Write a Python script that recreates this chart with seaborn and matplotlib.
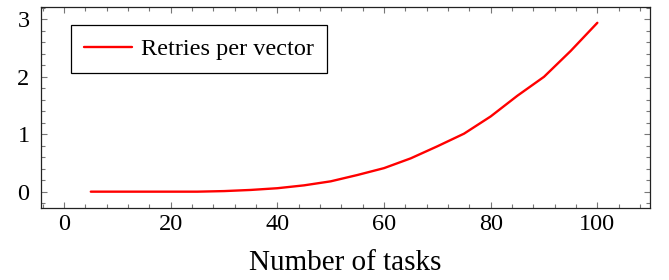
import matplotlib
matplotlib.use("Agg")
import matplotlib.pyplot as plt
import seaborn as sns
import pandas as pd
from matplotlib.ticker import MultipleLocator

tasks = [5, 10, 15, 20, 25, 30, 35, 40, 45, 50, 55, 60, 65, 70, 75, 80, 85, 90, 95, 100]
retries = [0.0, 0.0, 0.0, 0.0, 0.0, 0.01, 0.03, 0.06, 0.11, 0.18, 0.29, 0.41,
           0.58, 0.79, 1.01, 1.31, 1.67, 2.0, 2.45, 2.94]
series_name = "Retries per vector"
x_label = "Number of tasks"

df = pd.DataFrame({"tasks": tasks, "retries": retries})

sns.set_style("ticks")
plt.rcParams["font.family"] = ["Liberation Serif", "DejaVu Serif"]
plt.rcParams["text.color"] = "black"
plt.rcParams["axes.labelcolor"] = "black"
plt.rcParams["xtick.labelcolor"] = "black"
plt.rcParams["ytick.labelcolor"] = "black"

fig = plt.figure(figsize=(6.69, 2.80), dpi=100)
ax = fig.add_axes([0.0608, 0.256, 0.9102, 0.720])

sns.lineplot(data=df, x="tasks", y="retries", ax=ax, color="#ff0000",
             linewidth=1.7, label=series_name)

ax.set_xlim(-4.4, 109.8)
ax.set_ylim(-0.29, 3.22)
ax.xaxis.set_major_locator(MultipleLocator(20))
ax.xaxis.set_minor_locator(MultipleLocator(4))
ax.yaxis.set_major_locator(MultipleLocator(1))
ax.yaxis.set_minor_locator(MultipleLocator(0.2))

for s in ax.spines.values():
    s.set_color("#222222")
    s.set_linewidth(0.9)

ax.tick_params(which="both", direction="in", top=True, right=True,
               color="#777777", width=0.8)
ax.tick_params(which="major", length=4.2, labelsize=17.5)
ax.tick_params(which="minor", length=2.8)
ax.tick_params(axis="x", which="major", pad=4)
ax.tick_params(axis="y", which="major", pad=8)

ax.set_xlabel(x_label, fontsize=21, labelpad=11, color="black")
ax.set_ylabel("")

leg = ax.legend(loc="upper left", bbox_to_anchor=(0.049, 0.911), borderaxespad=0,
                fontsize=17.5, frameon=True, fancybox=False, handlelength=2.0,
                borderpad=0.55, handletextpad=0.35)
leg.get_frame().set_edgecolor("black")
leg.get_frame().set_linewidth(0.9)
leg.get_frame().set_alpha(1)
for t in leg.get_texts():
    t.set_color("black")

fig.savefig("out.png", dpi=100)
